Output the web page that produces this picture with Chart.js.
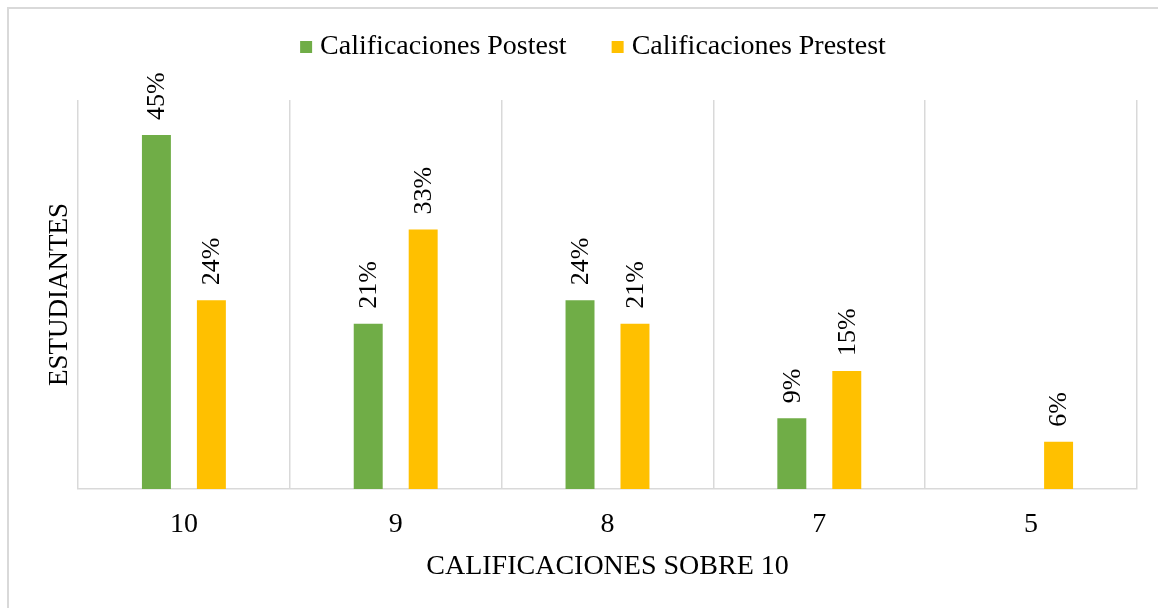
<!DOCTYPE html>
<html><head><meta charset="utf-8">
<script src="https://cdn.jsdelivr.net/npm/chart.js@4"></script>
<style>
html,body{margin:0;padding:0;background:#fff;overflow:hidden;width:1158px;height:608px}
#frame{position:absolute;left:7px;top:7px;width:1200px;height:700px;border-left:2px solid #d9d9d9;border-top:2px solid #d9d9d9}
#c{position:absolute;left:0;top:0}
</style></head><body>
<div id="frame"></div>
<canvas id="c" width="1158" height="608"></canvas>
<script>
const categories = ['10', '9', '8', '7', '5'];
const postest = [45, 21, 24, 9, null];
const prestest = [24, 33, 21, 15, 6];
const seriesNames = ['Calificaciones Postest', 'Calificaciones Prestest'];
const xTitle = 'CALIFICACIONES SOBRE 10';
const yTitle = 'ESTUDIANTES';

Chart.defaults.font.family = '"Liberation Serif", "Times New Roman", serif';
Chart.defaults.color = '#000';

const legendHeightFix = {
  id: 'legendHeightFix',
  beforeLayout(chart) {
    const lg = chart.legend;
    if (lg && !lg._fixed) {
      const f = lg.fit;
      lg.fit = function () { f.call(this); this.height = 118; };
      lg._fixed = true;
    }
  }
};

const valueLabels = {
  id: 'valueLabels',
  afterDatasetsDraw(chart) {
    const ctx = chart.ctx;
    ctx.save();
    ctx.font = '26px "Liberation Serif"';
    ctx.fillStyle = '#000';
    ctx.textAlign = 'left';
    ctx.textBaseline = 'middle';
    chart.data.datasets.forEach((ds, i) => {
      const meta = chart.getDatasetMeta(i);
      meta.data.forEach((bar, j) => {
        const v = ds.data[j];
        if (v == null) return;
        ctx.save();
        ctx.translate(bar.x + 1, bar.y - 15);
        ctx.rotate(-Math.PI / 2);
        ctx.fillText(v + '%', 0, 0);
        ctx.restore();
      });
    });
    ctx.restore();
  }
};

new Chart(document.getElementById('c'), {
  type: 'bar',
  data: {
    labels: categories,
    datasets: [
      { label: seriesNames[0], data: postest, backgroundColor: '#70AD47', borderWidth: 0,
        categoryPercentage: 0.519, barPercentage: 0.527 },
      { label: seriesNames[1], data: prestest, backgroundColor: '#FFC000', borderWidth: 0,
        categoryPercentage: 0.519, barPercentage: 0.527 }
    ]
  },
  options: {
    responsive: false,
    animation: false,
    layout: { padding: { top: -18, left: 55, right: 21, bottom: 0 } },
    plugins: {
      legend: {
        position: 'top',
        labels: { usePointStyle: true, pointStyle: 'rect', boxWidth: 0.01, boxHeight: 12,
                  padding: 51, font: { size: 28 }, color: '#000' }
      },
      tooltip: { enabled: false }
    },
    scales: {
      x: {
        grid: { color: '#d9d9d9', lineWidth: 1.5, drawTicks: false },
        border: { display: true, color: '#d9d9d9', width: 1.5 },
        ticks: { font: { size: 28 }, color: '#000', padding: 19 },
        title: { display: true, text: xTitle, font: { size: 28 }, color: '#000', padding: { top: 0, bottom: 25 } },
        afterFit(scale) { scale.height = 119; }
      },
      y: {
        min: 0, max: 49.45,
        grid: { display: false },
        border: { display: false },
        ticks: { display: false },
        title: { display: true, text: yTitle, font: { size: 27, lineHeight: 0.85 }, color: '#000', padding: { top: -7, bottom: 0 } },
        afterFit(scale) { scale.width = 23; }
      }
    }
  },
  plugins: [legendHeightFix, valueLabels]
});
</script>
</body></html>
